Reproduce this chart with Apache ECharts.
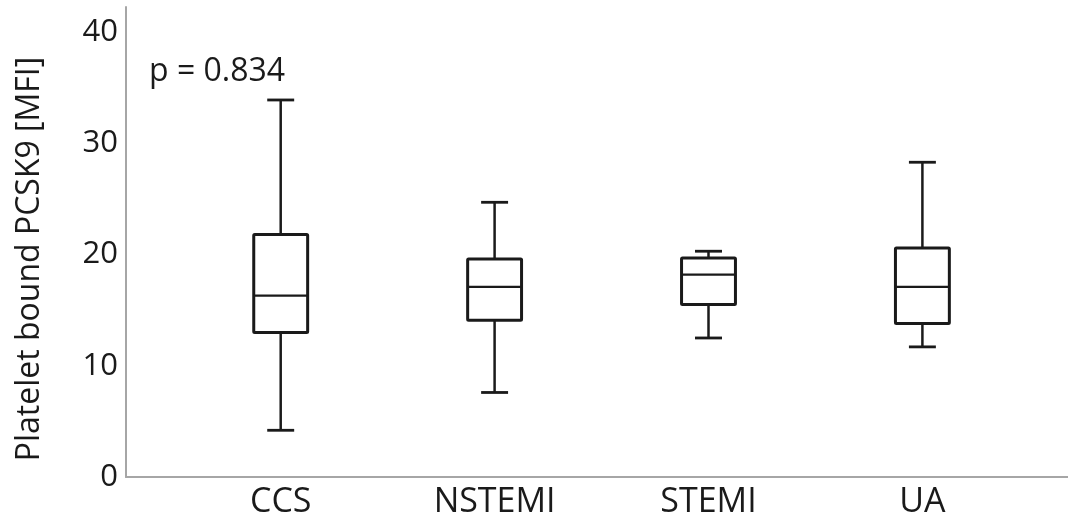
<!DOCTYPE html>
<html>
<head>
<meta charset="utf-8">
<script src="https://cdn.jsdelivr.net/npm/echarts@6/dist/echarts.min.js"></script>
<style>html,body{margin:0;padding:0;background:#fff}#c{width:1068px;height:520px}</style>
</head>
<body>
<div id="c"></div>
<script>
const categories = ['CCS', 'NSTEMI', 'STEMI', 'UA'];
const whiskerMin = [4.2, 7.6, 12.5, 11.7];
const q1 = [13.0, 14.1, 15.5, 13.8];
const median = [16.3, 17.1, 18.2, 17.1];
const q3 = [21.8, 19.6, 19.7, 20.6];
const whiskerMax = [33.9, 24.7, 20.3, 28.3];
const yTicks = [0, 10, 20, 30, 40];
const pLabel = 'p = 0.834';
const yTitle = 'Platelet bound PCSK9 [MFI]';

const data = categories.map((c, i) => [i, whiskerMin[i], q1[i], median[i], q3[i], whiskerMax[i]]);
const ink = '#1a1a1a';
const font = "'Open Sans', sans-serif";

function renderItem(params, api) {
  const i = api.value(0);
  const p = [1, 2, 3, 4, 5].map(d => api.coord([i, api.value(d)]));
  const cx = p[0][0];
  const band = api.size([1, 0])[0];
  const hw = band * 0.126, cw = band * 0.063;
  const ln = (x1, y1, x2, y2, w) => ({ type: 'line', shape: { x1, y1, x2, y2 }, style: { stroke: ink, lineWidth: w, lineCap: 'butt' } });
  return {
    type: 'group',
    children: [
      ln(cx, p[4][1], cx, p[3][1], 2.5),
      ln(cx, p[0][1], cx, p[1][1], 2.5),
      ln(cx - cw, p[4][1], cx + cw, p[4][1], 2.8),
      ln(cx - cw, p[0][1], cx + cw, p[0][1], 2.8),
      { type: 'rect', shape: { x: cx - hw, y: p[3][1], width: 2 * hw, height: p[1][1] - p[3][1], r: 1 },
        style: { fill: '#fff', stroke: ink, lineWidth: 3, lineJoin: 'round' } },
      ln(cx - hw, p[2][1], cx + hw, p[2][1], 2.2)
    ]
  };
}

const chart = echarts.init(document.getElementById('c'), null, { renderer: 'canvas' });
chart.setOption({
  backgroundColor: '#fff',
  animation: false,
  title: { text: pLabel, left: 144, top: 51, textStyle: { fontFamily: font, fontSize: 32, fontWeight: 'normal', color: ink } },
  grid: [
    { left: 173.75, right: 38.65, top: 7, bottom: 43 },
    { left: 126, right: 0, top: 7, bottom: 43 }
  ],
  xAxis: [
    { type: 'category', gridIndex: 0, data: categories, boundaryGap: true,
      axisLine: { show: false }, axisTick: { show: false }, splitLine: { show: false },
      axisLabel: { fontFamily: font, fontSize: 34, color: ink, margin: 8 } },
    { type: 'value', gridIndex: 1, min: 0, max: 1,
      axisLine: { show: true, onZero: false, lineStyle: { color: '#a6a6a6', width: 2 } },
      axisTick: { show: false }, axisLabel: { show: false }, splitLine: { show: false } }
  ],
  yAxis: [
    { type: 'value', gridIndex: 0, min: 0, max: 42.26, interval: 10, offset: 47.75,
      name: yTitle, nameLocation: 'middle', nameGap: 80,
      nameTextStyle: { fontFamily: font, fontSize: 32, color: ink, padding: [0, 34, 0, 0] },
      axisLine: { show: true, lineStyle: { color: '#a6a6a6', width: 2 } },
      axisTick: { show: false }, splitLine: { show: false },
      axisLabel: { fontFamily: font, fontSize: 31, color: ink, margin: 8, showMaxLabel: false,
        formatter: v => (yTicks.indexOf(v) >= 0 ? String(v) : '') } },
    { type: 'value', gridIndex: 1, show: false, min: 0, max: 1 }
  ],
  series: [
    { type: 'custom', xAxisIndex: 0, yAxisIndex: 0, renderItem, data, encode: { x: 0, y: [1, 2, 3, 4, 5] }, clip: false }
  ]
});
</script>
</body>
</html>
